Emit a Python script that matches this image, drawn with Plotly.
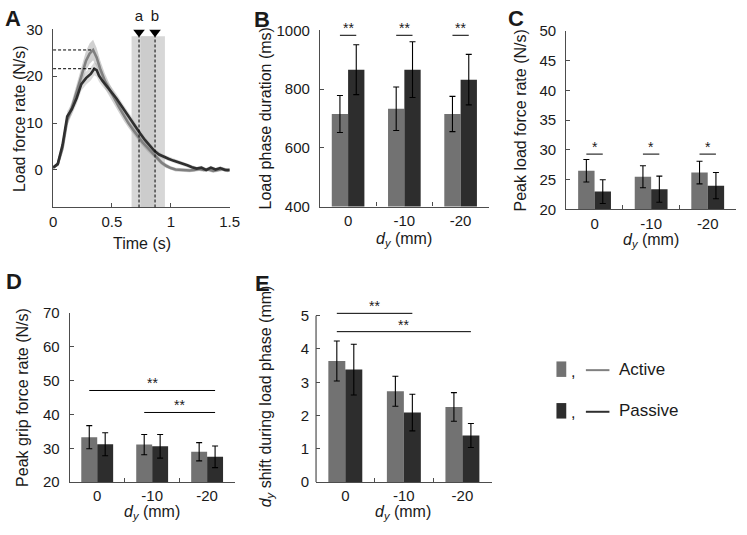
import plotly.graph_objects as go

W, H = 747, 535

# ---------------- Panel A data (load force rate traces) ----------------
t_active = [0, 0.04, 0.08, 0.12, 0.16, 0.20, 0.24, 0.28, 0.31, 0.34, 0.37, 0.40, 0.44, 0.48,
            0.52, 0.56, 0.60, 0.64, 0.68, 0.72, 0.76, 0.80, 0.84, 0.88, 0.92, 0.96, 1.00,
            1.04, 1.08, 1.12, 1.16, 1.20, 1.24, 1.28, 1.32, 1.36, 1.40, 1.44, 1.48, 1.50]
lfr_active = [0.5, 1.2, 4.6, 10.6, 13.3, 16.6, 20.3, 23.3, 24.8, 25.6, 24.0, 21.6, 19.0, 17.0,
              15.3, 13.4, 11.6, 10.0, 8.6, 7.2, 5.9, 4.8, 3.7, 2.6, 1.6, 0.9, 0.4,
              0.1, 0.0, -0.1, -0.1, 0.0, 0.2, 0.0, 0.1, -0.2, 0.0, 0.2, -0.1, 0.0]
lfr_active_se = [0.2, 0.4, 0.8, 1.2, 1.4, 1.6, 1.9, 2.1, 2.2, 2.2, 2.0, 1.8, 1.6, 1.4,
                 1.3, 1.2, 1.1, 1.0, 0.9, 0.9, 0.8, 0.8, 0.7, 0.6, 0.5, 0.5, 0.4,
                 0.4, 0.4, 0.4, 0.4, 0.4, 0.4, 0.4, 0.4, 0.4, 0.4, 0.4, 0.4, 0.4]
t_passive = [0, 0.04, 0.08, 0.12, 0.16, 0.20, 0.24, 0.28, 0.32, 0.35, 0.37, 0.39, 0.42, 0.46,
             0.50, 0.54, 0.58, 0.62, 0.66, 0.70, 0.74, 0.78, 0.82, 0.86, 0.90, 0.94, 0.98,
             1.02, 1.06, 1.10, 1.14, 1.18, 1.22, 1.26, 1.30, 1.34, 1.38, 1.42, 1.46, 1.50]
lfr_passive = [0.5, 1.3, 5.3, 11.4, 13.0, 15.3, 18.3, 19.6, 20.5, 21.6, 21.3, 20.1, 19.0, 17.8,
               16.6, 15.2, 13.7, 12.2, 10.6, 9.2, 7.8, 6.4, 5.2, 4.1, 3.3, 2.8, 2.4,
               2.0, 1.7, 1.3, 1.0, 0.6, 0.3, 0.5, 0.0, 0.5, 0.1, 0.4, 0.0, 0.0]
lfr_passive_se = [0.2, 0.4, 0.8, 1.1, 1.2, 1.3, 1.4, 1.4, 1.4, 1.4, 1.4, 1.3, 1.2, 1.1,
                  1.0, 1.0, 0.9, 0.9, 0.8, 0.8, 0.8, 0.7, 0.7, 0.6, 0.6, 0.5, 0.5,
                  0.5, 0.5, 0.4, 0.4, 0.4, 0.4, 0.4, 0.4, 0.4, 0.4, 0.4, 0.4, 0.4]
onset_labels = ["a", "b"]
onset_times = [0.73, 0.866]
window_active = [0.667, 0.86]
window_passive = [0.745, 0.95]
window_top = 28.5
time_ticks = [0, 0.5, 1, 1.5]
time_ticklabels = ["0", "0.5", "1", "1.5"]
lfr_ticks = [0, 10, 20, 30]

# ---------------- Bar panels data ----------------
dy_labels = ["0", "-10", "-20"]

dur_active = [715, 733, 715]
dur_active_sd = [63, 74, 60]
dur_passive = [866, 866, 832]
dur_passive_sd = [85, 95, 86]
dur_sig = ["**", "**", "**"]
dur_sig_level = 983

plfr_active = [26.5, 25.5, 26.2]
plfr_active_sd = [1.9, 1.85, 1.9]
plfr_passive = [23.0, 23.4, 24.0]
plfr_passive_sd = [2.0, 2.2, 2.2]
plfr_sig = ["*", "*", "*"]
plfr_sig_level = 29.3

pgfr_active = [33.3, 31.1, 29.0]
pgfr_active_sd = [3.4, 3.0, 2.7]
pgfr_passive = [31.2, 30.6, 27.5]
pgfr_passive_sd = [3.4, 3.5, 3.2]
pgfr_sig_pairs = [(0, 2, "**", 47.1), (1, 2, "**", 40.6)]

shift_active = [3.64, 2.73, 2.26]
shift_active_sd = [0.60, 0.45, 0.43]
shift_passive = [3.38, 2.09, 1.40]
shift_passive_sd = [0.76, 0.55, 0.36]
shift_sig_pairs = [(0, 1, "**", 5.07), (0, 2, "**", 4.52)]

series_names = ["Active", "Passive"]

# ---------------- Styles ----------------
C_ACT_BAR = "#727272"
C_PAS_BAR = "#2d2d2d"
C_ACT_LINE = "#808080"
C_PAS_LINE = "#2f2f2f"
AX = "#4d4d4d"
TXT = "#1a1a1a"
FONT = "Liberation Sans, Arial, sans-serif"
BARGAP = 0.42
BW = (1 - BARGAP) / 2


def dx(p):
    return p / W


def dy(p):
    return 1 - p / H


fig = go.Figure()

# ---------------- Panel A ----------------
shapes = []
for (x0, x1) in [window_active, window_passive]:
    shapes.append(dict(type="rect", xref="x", yref="y", x0=x0, x1=x1, y0=-8, y1=window_top,
                       fillcolor="rgba(200,200,200,0.72)", line=dict(width=0), layer="below"))

for t, v, se, col in [(t_active, lfr_active, lfr_active_se, "rgba(150,150,150,0.45)"),
                      (t_passive, lfr_passive, lfr_passive_se, "rgba(175,175,175,0.45)")]:
    fig.add_trace(go.Scatter(x=t, y=[a + b for a, b in zip(v, se)], mode="lines",
                             line=dict(width=0), hoverinfo="skip", showlegend=False,
                             xaxis="x", yaxis="y"))
    fig.add_trace(go.Scatter(x=t, y=[a - b for a, b in zip(v, se)], mode="lines",
                             line=dict(width=0), fill="tonexty", fillcolor=col,
                             hoverinfo="skip", showlegend=False, xaxis="x", yaxis="y"))

fig.add_trace(go.Scatter(x=t_active, y=lfr_active, mode="lines", name=series_names[0],
                         line=dict(color=C_ACT_LINE, width=2.6), showlegend=False,
                         xaxis="x", yaxis="y"))
fig.add_trace(go.Scatter(x=t_passive, y=lfr_passive, mode="lines", name=series_names[1],
                         line=dict(color=C_PAS_LINE, width=2.6), showlegend=False,
                         xaxis="x", yaxis="y"))

# peak dashed lines
for t, v in [(t_active, lfr_active), (t_passive, lfr_passive)]:
    pk = max(v)
    tp = t[v.index(pk)]
    shapes.append(dict(type="line", xref="x", yref="y", x0=0, x1=tp, y0=pk, y1=pk,
                       line=dict(color="black", width=1, dash="3px,2px")))
# onset dashed lines
for ot in onset_times:
    shapes.append(dict(type="line", xref="x", yref="y", x0=ot, x1=ot, y0=-8, y1=window_top,
                       line=dict(color="black", width=1, dash="3px,2px")))

fig.add_trace(go.Scatter(x=onset_times, y=[29.4] * len(onset_times), mode="markers+text",
                         marker=dict(symbol="triangle-down", size=10, color="black"),
                         text=onset_labels, textposition="top center",
                         textfont=dict(size=15, color=TXT, family=FONT),
                         cliponaxis=False, showlegend=False, hoverinfo="skip",
                         xaxis="x", yaxis="y"))

# ---------------- Bar panels ----------------
xpos = list(range(len(dy_labels)))
panels = [
    ("x2", "y2", dur_active, dur_active_sd, dur_passive, dur_passive_sd),
    ("x3", "y3", plfr_active, plfr_active_sd, plfr_passive, plfr_passive_sd),
    ("x4", "y4", pgfr_active, pgfr_active_sd, pgfr_passive, pgfr_passive_sd),
    ("x5", "y5", shift_active, shift_active_sd, shift_passive, shift_passive_sd),
]
for xa, ya, va, sa, vp, sp in panels:
    for vals, sds, col, nm in [(va, sa, C_ACT_BAR, series_names[0]), (vp, sp, C_PAS_BAR, series_names[1])]:
        fig.add_trace(go.Bar(x=xpos, y=vals, name=nm, marker=dict(color=col, line=dict(width=0)),
                             error_y=dict(type="data", array=sds, color="black", thickness=1.1, width=3),
                             showlegend=False, xaxis=xa, yaxis=ya))

annotations = []


def sig_text(xref, yref, x, y, txt):
    annotations.append(dict(xref=xref, yref=yref, x=x, y=y, text=txt, showarrow=False,
                            yanchor="bottom", font=dict(size=14, color=TXT, family=FONT),
                            yshift=-3))


# within-group significance (B, C)
for xa, ya, sigs, lvl in [("x2", "y2", dur_sig, dur_sig_level), ("x3", "y3", plfr_sig, plfr_sig_level)]:
    for i, s in zip(xpos, sigs):
        shapes.append(dict(type="line", xref=xa, yref=ya, x0=i - BW / 2, x1=i + BW / 2, y0=lvl, y1=lvl,
                           line=dict(color="black", width=1)))
        sig_text(xa, ya, i, lvl, s)

# across-group significance (D, E)
for xa, ya, pairs in [("x4", "y4", pgfr_sig_pairs), ("x5", "y5", shift_sig_pairs)]:
    for (i, j, s, lvl) in pairs:
        shapes.append(dict(type="line", xref=xa, yref=ya, x0=i - BW / 2, x1=j + BW / 2, y0=lvl, y1=lvl,
                           line=dict(color="black", width=1)))
        sig_text(xa, ya, (i - BW / 2 + j + BW / 2) / 2, lvl, s)

# E axis line only up to 5
shapes.append(dict(type="line", xref="x5 domain", yref="y5", x0=0, x1=0, y0=0, y1=5,
                   line=dict(color=AX, width=1.2)))

# ---------------- Axes ----------------
base = dict(showgrid=False, zeroline=False, showline=True, linecolor=AX, linewidth=1.2,
            ticks="inside", ticklen=4, tickwidth=1, tickcolor=AX,
            tickfont=dict(size=15, color=TXT, family=FONT))


def yax(domain_px, rng, tickvals, anchor, showline=True):
    d = dict(base)
    d.update(domain=[dy(domain_px[1]), dy(domain_px[0])], range=rng, tickmode="array",
             tickvals=tickvals, anchor=anchor, showline=showline, ticklabelstandoff=6)
    return d


def xbar(domain_px, anchor):
    d = dict(base)
    d.update(domain=[dx(domain_px[0]), dx(domain_px[1])], range=[-0.5, 2.5], tickmode="array",
             tickvals=xpos, ticktext=dy_labels, ticklen=0, anchor=anchor, ticklabelstandoff=0,
             minor=dict(tickmode="array", tickvals=[-0.5, 0.5, 1.5, 2.5], ticks="inside",
                        ticklen=4, tickcolor=AX, showgrid=False))
    return d


xA = dict(base)
xA.update(domain=[dx(50), dx(230)], range=[0, 1.5], tickmode="array", tickvals=time_ticks,
          ticktext=time_ticklabels, anchor="y", ticklabelstandoff=0)

fig.update_layout(
    width=W, height=H, margin=dict(l=0, r=0, t=0, b=0),
    paper_bgcolor="white", plot_bgcolor="white",
    font=dict(family=FONT, color=TXT),
    barmode="group", bargap=BARGAP, bargroupgap=0,
    showlegend=False,
    xaxis=xA,
    yaxis=yax((21, 205), [-8, 30], lfr_ticks, "x"),
    xaxis2=xbar((322, 494), "y2"),
    yaxis2=yax((22, 204), [400, 1000], [400, 600, 800, 1000], "x2"),
    xaxis3=xbar((573, 746), "y3"),
    yaxis3=yax((22.7, 207), [20, 50], [20, 25, 30, 35, 40, 45, 50], "x3"),
    xaxis4=xbar((67, 235), "y4"),
    yaxis4=yax((314, 488.7), [20, 70], [20, 30, 40, 50, 60, 70], "x4"),
    xaxis5=xbar((318, 497), "y5"),
    yaxis5=yax((304.7, 488.7), [0, 5.35], [0, 1, 2, 3, 4, 5], "x5", showline=False),
)


def pann(text, xp, yp, size=16, angle=0, xanchor="center", bold=False):
    annotations.append(dict(xref="paper", yref="paper", x=dx(xp), y=dy(yp), text=text,
                            showarrow=False, textangle=angle, xanchor=xanchor, yanchor="middle",
                            font=dict(size=size, color=TXT, family=FONT)))


# panel letters
for letter, xp, yp in [("A", 9, 10), ("B", 263, 11), ("C", 522, 10), ("D", 10, 281), ("E", 263, 283)]:
    pann("<b>%s</b>" % letter, xp, yp, size=22)

DY = "<i>d</i><sub><i>y</i></sub> (mm)"
# axis titles
pann("Load force rate (N/s)", 16, 113, angle=-90)
pann("Time (s)", 141, 242)
pann("Load phase duration (ms)", 266, 113, angle=-90)
pann(DY, 408, 238)
pann("Peak load force rate (N/s)", 526, 115, angle=-90)
pann(DY, 659, 239)
pann("Peak grip force rate (N/s)", 19, 401, angle=-90)
pann(DY, 151, 520)
pann("<i>d</i><sub><i>y</i></sub> shift during load phase (mm)", 267, 400, angle=-90)
pann(DY, 407, 520)

# custom legend
for (col_bar, col_line, name, yc) in [(C_ACT_BAR, C_ACT_LINE, series_names[0], 372),
                                       (C_PAS_BAR, C_PAS_LINE, series_names[1], 415)]:
    shapes.append(dict(type="rect", xref="paper", yref="paper", x0=dx(563), x1=dx(573),
                       y0=dy(yc + 8), y1=dy(yc - 8), fillcolor=col_bar, line=dict(width=0)))
    shapes.append(dict(type="line", xref="paper", yref="paper", x0=dx(593), x1=dx(617),
                       y0=dy(yc + 1), y1=dy(yc + 1), line=dict(color=col_line, width=2)))
    pann(",", 580, yc + 2, size=16)
    pann(name, 625, yc, size=17, xanchor="left")

fig.update_layout(shapes=shapes, annotations=annotations)
fig.write_html("out.html", config={"displayModeBar": False},
               post_script="document.body.style.margin='0';")
